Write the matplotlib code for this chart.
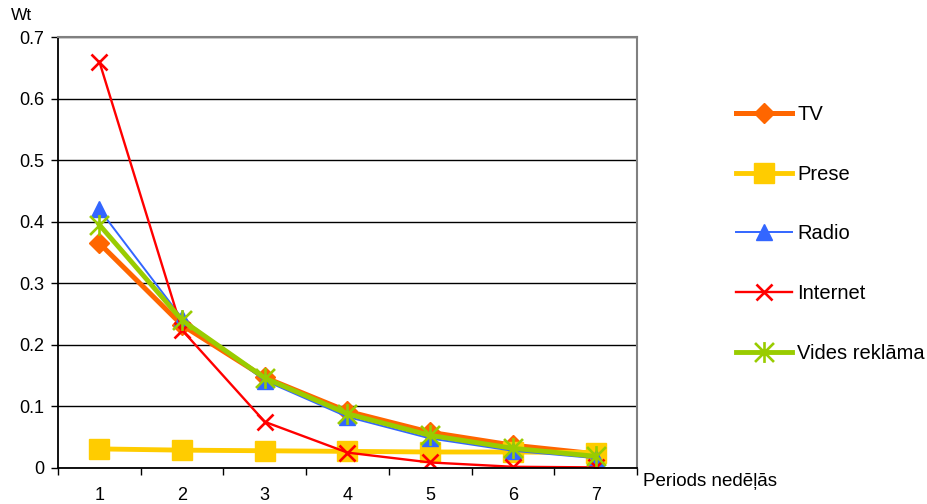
import matplotlib
matplotlib.use("Agg")
import matplotlib.pyplot as plt
from matplotlib.path import Path

plt.rcParams['font.family'] = ['Liberation Sans', 'DejaVu Sans']

periods = [1, 2, 3, 4, 5, 6, 7]
tv = [0.365, 0.232, 0.147, 0.092, 0.058, 0.037, 0.023]
prese = [0.031, 0.029, 0.028, 0.027, 0.026, 0.026, 0.025]
radio = [0.420, 0.243, 0.142, 0.083, 0.048, 0.028, 0.016]
internet = [0.660, 0.224, 0.075, 0.025, 0.009, 0.002, 0.001]
vides = [0.395, 0.240, 0.146, 0.088, 0.053, 0.032, 0.019]
yticks = [0, 0.1, 0.2, 0.3, 0.4, 0.5, 0.6, 0.7]

# asterisk marker: an X with a vertical stroke through it
star_path = Path(
    [(-1, -1), (1, 1), (-1, 1), (1, -1), (0, -1.1), (0, 1.1)],
    [Path.MOVETO, Path.LINETO, Path.MOVETO, Path.LINETO, Path.MOVETO, Path.LINETO],
)

fig = plt.figure(figsize=(9.28, 5.04), dpi=100)
ax = fig.add_axes([58 / 928, 36 / 504, (637 - 58) / 928, (468 - 37) / 504])

ax.plot(periods, tv, color='#FF6600', lw=3.6, marker='D', ms=10,
        mec='#FF6600', mfc='#FF6600', label='TV')
ax.plot(periods, prese, color='#FFCC00', lw=3.5, marker='s', ms=14,
        mec='#FFCC00', mfc='#FFCC00', label='Prese')
ax.plot(periods, radio, color='#3366FF', lw=1.4, marker='^', ms=12,
        mec='#3366FF', mfc='#3366FF', label='Radio')
ax.plot(periods, internet, color='#FF0000', lw=1.7, marker='x', ms=12,
        mew=1.9, mec='#FF0000', label='Internet')
ax.plot(periods, vides, color='#99CC00', lw=3.5, marker=star_path, ms=15,
        mew=1.9, mec='#99CC00', mfc='none', label='Vides reklāma')

ax.set_xlim(0.5, 7.5)
ax.set_ylim(0, 0.7)
ax.set_yticks(yticks)
ax.set_yticklabels(['0'] + [f'{v:.1f}' for v in yticks[1:]], fontsize=13)
ax.yaxis.grid(True, color='black', lw=1.0)
ax.set_axisbelow(True)

# category boundaries carry the ticks, the labels sit at the centres
ax.set_xticks([i + 0.5 for i in range(0, 8)])
ax.set_xticklabels([])
ax.set_xticks(periods, minor=True)
ax.set_xticklabels([str(p) for p in periods], minor=True, fontsize=13)
ax.tick_params(axis='x', which='major', direction='out', length=5, width=1, color='black')
ax.tick_params(axis='x', which='minor', length=0, pad=14)
ax.tick_params(axis='y', direction='out', length=5, width=1, pad=5)

ax.spines['top'].set_color('#808080')
ax.spines['top'].set_linewidth(1.5)
ax.spines['right'].set_color('#808080')
ax.spines['right'].set_linewidth(1.5)
ax.spines['left'].set_linewidth(1.3)
ax.spines['bottom'].set_linewidth(1.3)

fig.text(11 / 928, 1 - 15 / 504, 'Wt', fontsize=12.5, ha='left', va='center')
fig.text(643 / 928, 1 - 482 / 504, 'Periods nedēļās', fontsize=13.5, ha='left', va='center')

leg = ax.legend(loc='upper left', bbox_to_anchor=(736 / 928, 1 - 105 / 504),
                bbox_transform=fig.transFigure, frameon=False, fontsize=14.5,
                handlelength=2.78, handletextpad=0.25, labelspacing=2.02,
                borderpad=0, borderaxespad=0)

fig.savefig('out.png', dpi=100)
